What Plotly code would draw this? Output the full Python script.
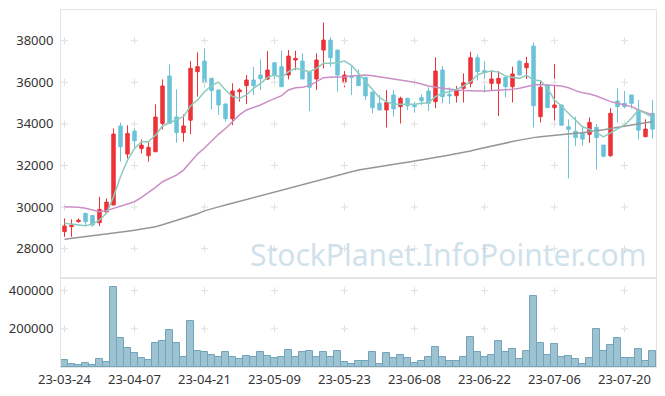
import plotly.graph_objects as go

dates = ["23-03-24","23-03-27","23-03-28","23-03-29","23-03-30","23-03-31","23-04-03","23-04-04","23-04-05","23-04-06",
         "23-04-07","23-04-10","23-04-11","23-04-12","23-04-13","23-04-14","23-04-17","23-04-18","23-04-19","23-04-20",
         "23-04-21","23-04-24","23-04-25","23-04-26","23-04-27","23-04-28","23-05-02","23-05-03","23-05-04","23-05-08",
         "23-05-09","23-05-10","23-05-11","23-05-12","23-05-15","23-05-16","23-05-17","23-05-18","23-05-19","23-05-22",
         "23-05-23","23-05-24","23-05-25","23-05-26","23-05-30","23-05-31","23-06-01","23-06-02","23-06-05","23-06-07",
         "23-06-08","23-06-09","23-06-12","23-06-13","23-06-14","23-06-15","23-06-16","23-06-19","23-06-20","23-06-21",
         "23-06-22","23-06-23","23-06-26","23-06-27","23-06-28","23-06-29","23-06-30","23-07-03","23-07-04","23-07-05",
         "23-07-06","23-07-07","23-07-10","23-07-11","23-07-12","23-07-13","23-07-14","23-07-17","23-07-18","23-07-19",
         "23-07-20","23-07-21","23-07-24","23-07-25","23-07-26"]

open_ = [28820,29060,29300,29700,29600,29250,29760,30100,33900,32550,
         33650,32810,32470,32660,34020,36300,34330,33580,34180,36510,
         37020,36190,35630,34960,34250,35550,35840,36110,36350,36160,
         36940,36750,36350,37070,37020,36510,36160,37550,38030,37550,
         35980,36300,36300,36240,35530,34990,34670,35390,34830,35230,
         34910,35260,35580,35070,36590,35420,35350,35710,35950,37180,
         36560,35950,35950,36240,35790,37020,36700,37740,34350,35870,
         34780,34910,33860,33650,33580,33500,33830,32980,32470,35100,
         34990,35390,34670,33380,34510]
high = [29460,29410,29450,29720,29620,30500,30420,33780,34070,33930,
        33780,33250,33140,34940,36140,36860,35660,34460,37020,37440,
        37630,36220,35630,34960,35950,35710,36350,36750,37100,37500,
        36970,37520,37550,37520,37390,36510,37390,38880,38160,37550,
        36540,36830,36620,36240,35530,35390,35630,35630,35310,35230,
        35070,35420,35760,37200,36780,35760,35820,36430,37470,37340,
        37020,36590,36540,36240,36750,37050,37230,37920,36030,35870,
        36880,34910,34220,34350,33860,34310,33990,32980,34750,35710,
        35580,35390,35150,34220,35150]
low = [28570,28570,29250,29140,29050,29090,29700,30100,32180,32340,
       32820,32580,32180,32660,33740,34020,33100,33140,33500,35310,
       35760,34700,34430,34110,33940,35070,34950,35390,35630,36110,
       36030,35790,36140,36590,36160,34620,35630,36670,36750,35550,
       35760,35390,35840,35150,34510,34670,33830,34350,34020,34670,
       34540,34890,34620,34750,34990,34950,35030,35030,35760,36110,
       35500,35600,34380,35280,35030,36350,36160,33830,34070,34780,
       33940,33940,31380,32930,32950,33090,31810,32390,32420,34060,
       34750,34750,33250,33380,33300]
close = [29090,29120,29370,29300,29140,29890,30240,33510,32900,33540,
         33190,32980,32870,34330,35820,34020,33580,33900,36670,36750,
         35980,35600,34910,34250,35580,35630,36110,35840,36170,36590,
         36350,35790,37260,37150,36160,35760,37070,38030,37180,36350,
         36350,36240,35840,35350,34780,34670,35030,34730,35230,34870,
         34830,35110,34990,36540,35310,35350,35600,35980,37180,36510,
         36460,36160,36190,35790,36400,36350,36910,34870,35760,34780,
         34910,33940,33740,33340,33270,34070,33340,32450,34510,34830,
         34830,34990,33700,33750,33750]

ma5 = [29220,29170,29120,29100,29180,29380,29700,30500,31460,32260,
       32820,33140,33140,33460,33900,34060,34190,34350,34860,35150,
       35550,35840,36010,35630,35310,35230,35390,35710,35950,36240,
       36350,36240,36510,36670,36590,36510,36670,36910,36910,36940,
       37020,36810,36430,36030,35630,35260,35070,34950,34940,34940,
       34950,34990,35020,35310,35470,35550,35660,35820,36030,36350,
       36480,36540,36490,36300,36240,36190,36350,36110,36080,35710,
       35150,34860,34510,34190,33860,33740,33580,33380,33580,33780,
       33950,34270,34670,34510,34310]
ma20 = [30020,30020,29990,29940,29860,29780,29830,29940,30050,30150,
        30260,30470,30690,30950,31220,31380,31540,31780,32180,32550,
        32840,33190,33500,33780,34110,34430,34670,34780,34910,35070,
        35200,35360,35630,35740,35760,35840,36030,36220,36240,36240,
        36270,36300,36330,36350,36320,36270,36220,36170,36110,36060,
        36000,35920,35820,35760,35710,35680,35630,35600,35580,35580,
        35580,35600,35600,35630,35660,35710,35790,35870,35900,35870,
        35870,35820,35740,35600,35500,35440,35340,35200,35070,34990,
        34910,34830,34670,34540,34430]
ma60 = [28450,28490,28530,28570,28610,28650,28690,28735,28790,28840,
        28890,28940,29000,29055,29150,29250,29350,29450,29560,29680,
        29820,29900,30010,30100,30190,30280,30370,30460,30550,30640,
        30730,30820,30910,31000,31090,31180,31270,31360,31450,31550,
        31620,31700,31780,31840,31900,31960,32010,32060,32110,32160,
        32210,32260,32320,32380,32440,32500,32560,32630,32700,32780,
        32860,32940,33010,33080,33150,33220,33290,33340,33380,33420,
        33460,33490,33520,33550,33580,33620,33670,33720,33780,33840,
        33900,33960,34010,34060,34100]

volume = [36000,14000,9000,19000,9000,40000,26000,419000,153000,102000,
          71000,45000,36000,128000,138000,195000,128000,50000,241000,86000,
          76000,65000,55000,76000,55000,40000,60000,50000,76000,60000,
          45000,50000,91000,55000,81000,86000,55000,76000,55000,86000,
          24000,17000,29000,29000,76000,14000,71000,45000,65000,45000,
          19000,29000,55000,107000,50000,34000,29000,50000,159000,81000,
          55000,65000,138000,76000,96000,40000,86000,371000,128000,65000,
          122000,50000,60000,40000,14000,45000,200000,86000,117000,153000,
          45000,45000,96000,29000,86000]

price_ticks = [28000, 30000, 32000, 34000, 36000, 38000]
volume_ticks = [200000, 400000]
tick_dates = dates[::10]

RED = "#ec3338"
BLUE = "#6ac3d8"
FONT = "Noto Sans"

fig = go.Figure()

# grid crosses
gx, gy = [], []
for d in tick_dates:
    for v in price_ticks:
        gx.append(d); gy.append(v)
fig.add_trace(go.Scatter(x=gx, y=gy, mode="markers", xaxis="x", yaxis="y",
                         marker=dict(symbol="cross-thin", size=5, line=dict(width=1, color="#e0e0e0")),
                         hoverinfo="skip", showlegend=False))
vx, vy = [], []
for d in tick_dates:
    for v in volume_ticks:
        vx.append(d); vy.append(v)
fig.add_trace(go.Scatter(x=vx, y=vy, mode="markers", xaxis="x2", yaxis="y2",
                         marker=dict(symbol="cross-thin", size=5, line=dict(width=1, color="#e0e0e0")),
                         hoverinfo="skip", showlegend=False))

fig.add_trace(go.Scatter(x=dates, y=ma60, mode="lines", line=dict(color="#969696", width=1.5),
                         xaxis="x", yaxis="y", showlegend=False))
fig.add_trace(go.Scatter(x=dates, y=ma20, mode="lines", line=dict(color="#cc8ec6", width=1.5),
                         xaxis="x", yaxis="y", showlegend=False))
fig.add_trace(go.Scatter(x=dates, y=ma5, mode="lines", line=dict(color="#8ccbbd", width=1.5),
                         xaxis="x", yaxis="y", showlegend=False))

fig.add_trace(go.Candlestick(x=dates, open=open_, high=high, low=low, close=close,
                             increasing=dict(line=dict(color=RED, width=1), fillcolor=RED),
                             decreasing=dict(line=dict(color=BLUE, width=1), fillcolor=BLUE),
                             whiskerwidth=0, xaxis="x", yaxis="y", showlegend=False))

fig.add_trace(go.Bar(x=dates, y=volume, xaxis="x2", yaxis="y2",
                     marker=dict(color="rgba(146,189,206,0.9)", line=dict(color="#72a5bc", width=1)),
                     showlegend=False))

# page body has an 8px margin: the figure is sized and padded to land on the reference pixels
dom = (367 - 278) / 357.0
common_x = dict(type="category", categoryorder="array", categoryarray=dates,
                range=[-0.5, len(dates) - 0.5], showgrid=False, zeroline=False,
                showline=True, linecolor="#e4e4e4", linewidth=1, mirror=True,
                rangeslider=dict(visible=False), fixedrange=True)

fig.update_layout(
    width=657, height=388,
    margin=dict(l=53, r=9, t=2, b=29, autoexpand=False),
    paper_bgcolor="white", plot_bgcolor="white",
    font=dict(family=FONT, size=13, color="#333333"),
    bargap=0,
    xaxis=dict(**common_x, domain=[0, 1], anchor="y", showticklabels=False),
    xaxis2=dict(**common_x, domain=[0, 1], anchor="y2", matches="x",
                tickmode="array", tickvals=tick_dates, ticktext=tick_dates,
                ticks="", tickfont=dict(family=FONT, size=13, color="#333333")),
    yaxis=dict(domain=[dom, 1], range=[26591, 39476], tickmode="array",
               tickvals=price_ticks, ticktext=[str(v) for v in price_ticks],
               showgrid=False, zeroline=False, showline=True, linecolor="#e4e4e4",
               mirror=True, ticks="", ticklabelstandoff=4,
               tickfont=dict(family=FONT, size=13, color="#333333")),
    yaxis2=dict(domain=[0, dom], range=[0, 466000], tickmode="array",
                tickvals=volume_ticks, ticktext=[str(v) for v in volume_ticks],
                showgrid=False, zeroline=False, showline=True, linecolor="#e4e4e4",
                mirror=True, ticks="", ticklabelstandoff=4,
                tickfont=dict(family=FONT, size=13, color="#333333")),
    annotations=[dict(text="StockPlanet.InfoPointer.com", xref="paper", yref="paper",
                      x=0.652, y=0.314, xanchor="center", yanchor="middle", showarrow=False,
                      font=dict(family=FONT, size=30, color="rgba(160,195,214,0.5)"))],
)

fig.write_html("out.html")
